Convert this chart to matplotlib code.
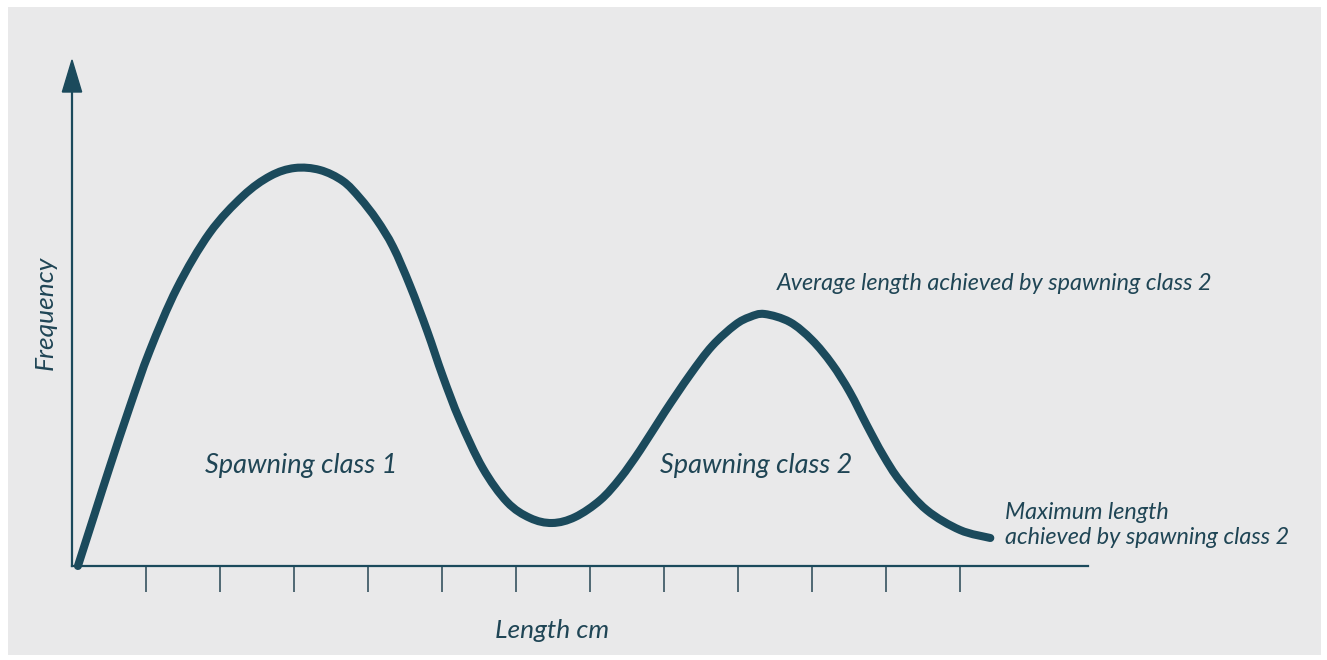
import numpy as np
from matplotlib import pyplot as plt
from matplotlib.patches import Rectangle, Polygon, PathPatch
from matplotlib.path import Path

# curve (x in tick units, y in arbitrary frequency units)
length = [0.08, 0.31, 0.51, 0.78, 1.05, 1.42, 1.86, 2.31, 2.68, 3.01,
          3.35, 3.66, 3.89, 4.12, 4.34, 4.57, 4.80, 5.01, 5.24, 5.55,
          5.88, 6.19, 6.49, 6.80, 7.14, 7.41, 7.68, 8.01, 8.35, 8.65,
          8.96, 9.16, 9.36, 9.70, 10.00, 10.27, 10.51, 10.74, 10.96, 11.19,
          11.55, 12.00, 12.41]
freq = [0.0, 0.53, 0.99, 1.59, 2.15, 2.78, 3.33, 3.70, 3.90, 3.98,
        3.96, 3.85, 3.68, 3.46, 3.19, 2.80, 2.35, 1.90, 1.46, 0.98,
        0.64, 0.48, 0.43, 0.49, 0.66, 0.88, 1.16, 1.54, 1.91, 2.20,
        2.41, 2.49, 2.52, 2.44, 2.26, 2.02, 1.74, 1.41, 1.11, 0.85,
        0.56, 0.36, 0.28]
ticks = [1, 2, 3, 4, 5, 6, 7, 8, 9, 10, 11, 12]

dark = '#1b4a5c'
txt = '#1f4555'
bg = '#e9e9ea'
W, H = 1327, 660

fig = plt.figure(figsize=(W / 100, H / 100), dpi=100, facecolor='white')
fig.patches.append(Rectangle((8 / W, 5 / H), 1313 / W, 648 / H,
                             transform=fig.transFigure, facecolor=bg,
                             edgecolor='none', zorder=-10))

ax = fig.add_axes([72 / W, (H - 566) / H, 1016 / W, 506 / H])
ax.set_facecolor('none')
ax.set_xlim(0, 13.73)
ax.set_ylim(0, 5.06)

for s in ['top', 'right']:
    ax.spines[s].set_visible(False)
ax.spines['bottom'].set_color(dark)
ax.spines['left'].set_color(dark)
ax.spines['bottom'].set_linewidth(1.6)
ax.spines['left'].set_linewidth(1.6)
ax.spines['left'].set_bounds(0, 4.8)

ax.set_xticks(ticks)
ax.set_xticklabels([])
ax.set_yticks([])
ax.tick_params(axis='x', direction='out', length=19, width=1.4, color='#4f6873')

# arrow head on y axis
ax.add_patch(Polygon([[0, 5.06], [-0.13, 4.74], [0.13, 4.74]], closed=True,
                     facecolor=dark, edgecolor=dark, clip_on=False, zorder=5))

# smooth line through the read points (Catmull-Rom as cubic Bezier segments)
pts = np.column_stack([length, freq])
verts = [pts[0]]
codes = [Path.MOVETO]
for i in range(len(pts) - 1):
    p0 = pts[max(i - 1, 0)]
    p1 = pts[i]
    p2 = pts[i + 1]
    p3 = pts[min(i + 2, len(pts) - 1)]
    verts += [p1 + (p2 - p0) / 6, p2 - (p3 - p1) / 6, p2]
    codes += [Path.CURVE4] * 3
ax.add_patch(PathPatch(Path(verts, codes), facecolor='none', edgecolor=dark,
                       lw=5.8, capstyle='round', joinstyle='round',
                       clip_on=False, zorder=4))

fnt = dict(family='Lato', style='italic', color=txt)
ax.text(1.80, 1.01, 'Spawning class 1', fontsize=19.5, va='center', ha='left', **fnt)
ax.text(7.95, 1.01, 'Spawning class 2', fontsize=19.5, va='center', ha='left', **fnt)
ax.text(9.53, 2.82, 'Average length achieved by spawning class 2', fontsize=16.8,
        va='center', ha='left', **fnt)
ax.text(12.61, 0.41, 'Maximum length\nachieved by spawning class 2', fontsize=16.8,
        va='center', ha='left', linespacing=1.2, clip_on=False, **fnt)

fig.text(552 / W, 1 - 631 / H, 'Length cm', fontsize=19, ha='center', va='center', **fnt)
fig.text(45 / W, 1 - 313 / H, 'Frequency', fontsize=19, ha='center', va='center',
         rotation=90, **fnt)

fig.savefig('out.png', dpi=100, facecolor='white')
